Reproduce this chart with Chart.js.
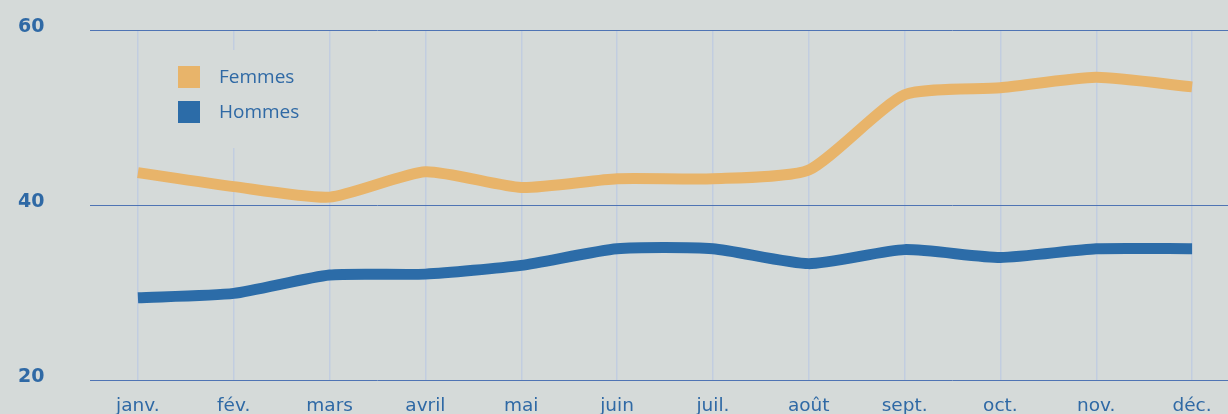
<!DOCTYPE html>
<html>
<head>
<meta charset="utf-8">
<script src="https://cdn.jsdelivr.net/npm/chart.js@4"></script>
<style>
  html, body { margin: 0; padding: 0; background: #d5dad9; overflow: hidden; }
  #wrap { position: absolute; left: 0; top: 0; width: 1240px; height: 414px; }
</style>
</head>
<body>
<div id="wrap"><canvas id="lineChart"></canvas></div>
<script>
// ===== Data =====
const months = ['janv.', 'fév.', 'mars', 'avril', 'mai', 'juin', 'juil.', 'août', 'sept.', 'oct.', 'nov.', 'déc.'];
const femmes = [43.7, 42.1, 40.9, 43.8, 42.0, 43.0, 43.0, 44.0, 52.6, 53.4, 54.6, 53.5];
const hommes = [29.4, 29.9, 32.0, 32.1, 33.1, 35.0, 35.0, 33.3, 34.9, 34.0, 35.0, 35.0];
const yTicks = [20, 40, 60];

const bg = '#d5dad9';
const yellow = '#e8b46a';
const blue = '#2c6ca8';
const textBlue = '#2f69a5';

// legend drawn by hand, with a background patch over the grid
const legendPlugin = {
  id: 'boxLegend',
  beforeDatasetsDraw(chart) {
    const c = chart.ctx;
    c.save();
    c.fillStyle = bg;
    c.fillRect(160, 50, 162, 98);
    const items = [['Femmes', yellow, 66], ['Hommes', blue, 101]];
    c.font = '19px "Open Sans"';
    c.textBaseline = 'middle';
    c.textAlign = 'left';
    items.forEach(([label, col, y]) => {
      c.fillStyle = col;
      c.fillRect(178, y, 22, 22);
      c.fillStyle = textBlue;
      c.fillText(label, 219, y + 12);
    });
    c.restore();
  }
};

const ctx = document.getElementById('lineChart').getContext('2d');
new Chart(ctx, {
  type: 'line',
  data: {
    labels: months,
    datasets: [
      { label: 'Femmes', data: femmes, borderColor: yellow, borderWidth: 11, tension: 0.2, pointRadius: 0, fill: false, borderCapStyle: 'butt' },
      { label: 'Hommes', data: hommes, borderColor: blue, borderWidth: 11, tension: 0.2, pointRadius: 0, fill: false, borderCapStyle: 'butt' }
    ]
  },
  options: {
    responsive: true,
    maintainAspectRatio: false,
    animation: false,
    layout: { padding: { left: 18, top: 30, right: 0, bottom: 0 } },
    plugins: { legend: { display: false }, tooltip: { enabled: false } },
    scales: {
      x: {
        offset: true,
        grid: { offset: false, color: '#c2cde0', lineWidth: 1.5, drawTicks: false },
        border: { display: false },
        ticks: { color: textBlue, font: { family: 'DejaVu Sans', size: 18.5 }, padding: 15, maxRotation: 0, autoSkip: false },
        afterFit(s) { s.height = 34; }
      },
      y: {
        min: 20,
        max: 60,
        afterBuildTicks(s) { s.ticks = yTicks.map(v => ({ value: v })); },
        grid: { color: '#4f74b4', lineWidth: 1, drawTicks: false },
        border: { display: false },
        ticks: { color: textBlue, font: { family: 'DejaVu Sans', size: 19, weight: 'bold' }, crossAlign: 'far', labelOffset: -3 },
        afterFit(s) { s.width = 72; }
      }
    }
  },
  plugins: [legendPlugin]
});
</script>
</body>
</html>
